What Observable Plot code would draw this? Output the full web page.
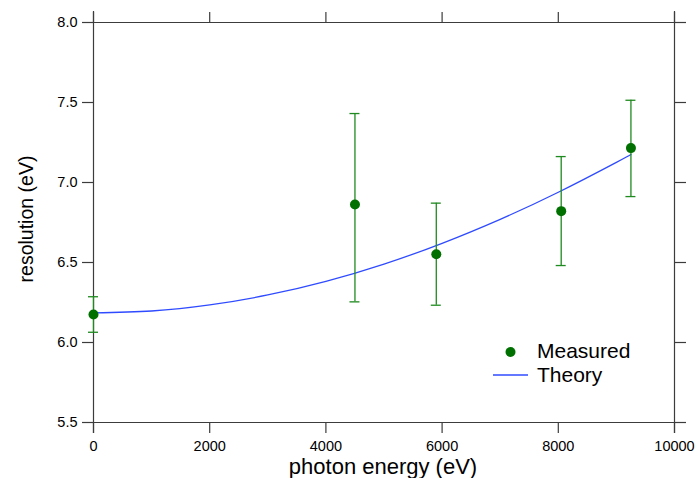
<!DOCTYPE html>
<html>
<head>
<meta charset="utf-8">
<script src="https://cdn.jsdelivr.net/npm/d3@7"></script>
<script src="https://cdn.jsdelivr.net/npm/@observablehq/plot@0.6"></script>
<style>
  html, body { margin: 0; padding: 0; background: #fff; }
  #chart svg { display: block; }
</style>
</head>
<body>
<div id="chart"></div>
<script>
// Measured data
const measX = [0, 4500, 5900, 8050, 9250];
const measY = [6.175, 6.862, 6.552, 6.821, 7.215];
const errLow = [6.064, 6.254, 6.233, 6.481, 6.912];
const errHigh = [6.286, 7.431, 6.871, 7.162, 7.514];

// Theory curve
const theoryX = [0, 1000, 2000, 3000, 4000, 5000, 6000, 7000, 8000, 9000, 9250];
const theoryY = [6.185, 6.197, 6.235, 6.297, 6.382, 6.490, 6.620, 6.770, 6.939, 7.126, 7.175];

// Tick labels
const xTicks = [0, 2000, 4000, 6000, 8000, 10000];
const yTicks = [5.5, 6.0, 6.5, 7.0, 7.5, 8.0];

const measured = measX.map((x, i) => ({x, y: measY[i], lo: errLow[i], hi: errHigh[i]}));
const theory = theoryX.map((x, i) => ({x, y: theoryY[i]}));

const axisColor = "#3c3c3c";
const font = "'Liberation Sans', Arial, Helvetica, sans-serif";

const plot = Plot.plot({
  width: 696,
  height: 478,
  marginLeft: 93,
  marginRight: 22,
  marginTop: 22,
  marginBottom: 56,
  style: {fontFamily: font, fontSize: "14.5px", color: "#000", background: "#fff"},
  x: {domain: [0, 10000], label: null},
  y: {domain: [5.5, 8.0], label: null},
  marks: [
    // frame lines extended by tick length
    Plot.ruleY([5.5, 8.0], {stroke: axisColor, strokeWidth: 1.2, insetLeft: -11, insetRight: -11}),
    Plot.ruleX([0, 10000], {stroke: axisColor, strokeWidth: 1.2, insetTop: -11, insetBottom: -11}),
    Plot.axisX({anchor: "bottom", ticks: xTicks, tickSize: 11, tickPadding: 7, stroke: axisColor, strokeWidth: 1.2, tickFormat: d => String(d), label: null}),
    Plot.axisX({anchor: "top", ticks: xTicks, tickSize: 11, stroke: axisColor, strokeWidth: 1.2, tickFormat: () => "", label: null}),
    Plot.axisY({anchor: "left", ticks: yTicks, tickSize: 11, tickPadding: 5, stroke: axisColor, strokeWidth: 1.2, tickFormat: d3.format(".1f"), label: null}),
    Plot.axisY({anchor: "right", ticks: yTicks, tickSize: 11, stroke: axisColor, strokeWidth: 1.2, tickFormat: () => "", label: null}),
    // theory curve
    Plot.line(theory, {x: "x", y: "y", stroke: "#2f4bff", strokeWidth: 1.3, curve: "natural"}),
    // error bars
    Plot.ruleX(measured, {x: "x", y1: "lo", y2: "hi", stroke: "#1f8a1f", strokeWidth: 1.3}),
    Plot.ruleY(measured, {y: "hi", x1: "x", x2: "x", insetLeft: -5, insetRight: -5, stroke: "#1f8a1f", strokeWidth: 1.3}),
    Plot.ruleY(measured, {y: "lo", x1: "x", x2: "x", insetLeft: -5, insetRight: -5, stroke: "#1f8a1f", strokeWidth: 1.3}),
    // points
    Plot.dot(measured, {x: "x", y: "y", r: 5, fill: "#007000", stroke: "none"})
  ]
});

const svg = d3.select(plot);

// axis titles
svg.append("text")
  .attr("x", 383).attr("y", 474)
  .attr("text-anchor", "middle")
  .attr("font-family", font).attr("font-size", "22px").attr("fill", "#000")
  .text("photon energy (eV)");

svg.append("text")
  .attr("transform", "translate(33,219) rotate(-90)")
  .attr("text-anchor", "middle")
  .attr("font-family", font).attr("font-size", "19.5px").attr("fill", "#000")
  .text("resolution (eV)");

// legend
const lg = svg.append("g").attr("font-family", font).attr("font-size", "21px").attr("fill", "#000").attr("text-anchor", "start");
lg.append("circle").attr("cx", 510.5).attr("cy", 352).attr("r", 5).attr("fill", "#007000");
lg.append("text").attr("x", 537).attr("y", 350).attr("dy", "0.36em").text("Measured");
lg.append("line").attr("x1", 493).attr("x2", 528).attr("y1", 375).attr("y2", 375)
  .attr("stroke", "#2f4bff").attr("stroke-width", 1.3);
lg.append("text").attr("x", 537).attr("y", 374).attr("dy", "0.36em").text("Theory");

document.getElementById("chart").appendChild(plot);
</script>
</body>
</html>
